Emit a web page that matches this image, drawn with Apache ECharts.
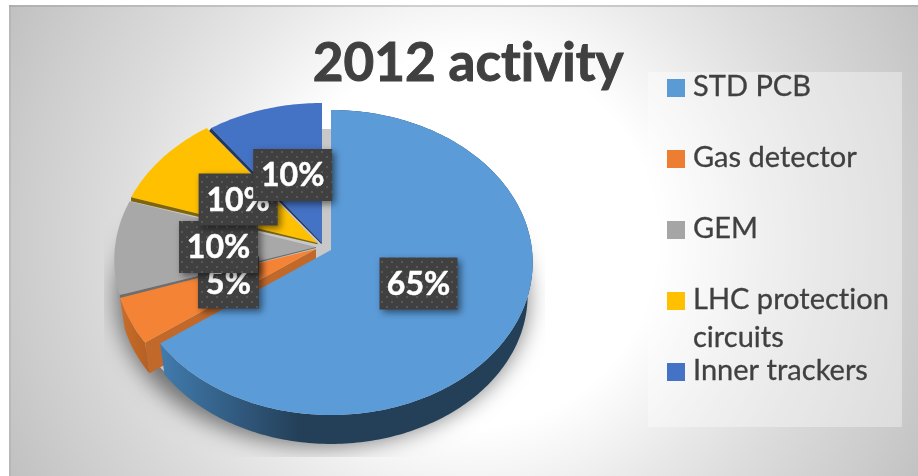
<!DOCTYPE html>
<html>
<head>
<meta charset="utf-8">
<style>html,body{margin:0;padding:0;background:#fff}#chart{width:918px;height:476px}</style>
<script src="https://cdn.jsdelivr.net/npm/echarts@6/dist/echarts.min.js"></script>
</head>
<body>
<div id="chart"></div>
<script>
// Pie values, in percent, clockwise from twelve o'clock
const categories = ['STD PCB', 'Gas detector', 'GEM', 'LHC protection circuits', 'Inner trackers'];
const shares = [65, 5, 10, 10, 10];
const shareLabels = ['65%', '5%', '10%', '10%', '10%'];
const legendLines = [['STD PCB'], ['Gas detector'], ['GEM'], ['LHC protection', 'circuits'], ['Inner trackers']];

// Slice styling
const swatchColors = ['#5b9bd5', '#ed7d31', '#a5a5a5', '#ffc000', '#4472c4'];
const faceColors = ['#5b9bd8', '#f58335', '#a8a8a8', '#ffc000', '#4472c4'];
const edgeColors = [null, '#c1682b', '#6e6e6e', '#7f6408', '#1f3864'];
const sliceOrder = [50, 40, 30, 20, 10];

// Tilted-disc projection; each slice is pulled a little away from the hub
const hubs = [{ x: 331, y: 250 }, { x: 316, y: 249 }, { x: 316, y: 247 }, { x: 317.5, y: 243 }, { x: 322, y: 243 }];
const tagRadius = [0.48, 0.48, 0.485, 0.5, 0.49];
const RX = 201, RY = 151.5, PERSPECTIVE = 0.082;
const DEPTH = 33, LOWER_SCALE = 0.975;
const FONT = 'Lato, Carlito, sans-serif';

function project(deg, radius, c, lower) {
  const t = deg * Math.PI / 180;
  const u = Math.sin(t) * radius, v = -Math.cos(t) * radius;
  const s = 1 / (1 - PERSPECTIVE * v);
  const k = lower ? LOWER_SCALE : 1;
  return [c.x + RX * u * s * k, c.y + (lower ? DEPTH : 0) + RY * v * s * k];
}
function arc(from, to, c, lower) {
  const pts = [], n = Math.max(2, Math.ceil(to - from));
  for (let i = 0; i <= n; i++) pts.push(project(from + (to - from) * i / n, 1, c, lower));
  return pts;
}
function offset(p, dx, dy) { return [p[0] + dx, p[1] + dy]; }

// Fine dot texture of the value tags
const dots = document.createElement('canvas');
dots.width = dots.height = 10;
(function () {
  const g = dots.getContext('2d');
  g.fillStyle = '#404040'; g.fillRect(0, 0, 10, 10);
  g.fillStyle = '#585858'; g.fillRect(1, 1, 2, 2); g.fillRect(6, 6, 2, 2);
})();

function renderSlice(params, api) {
  const i = params.dataIndex;
  const before = shares.slice(0, i).reduce((a, b) => a + b, 0);
  const from = before * 3.6, to = (before + api.value(0)) * 3.6;
  const c = hubs[i];
  const apex = [c.x, c.y];
  const z = sliceOrder[i];
  const kids = [];

  // Rim wall, hidden by the top face where it runs behind the disc
  if (i < 2) {
    const wall = i === 0
      ? { type: 'linear', x: 165, y: 0, x2: 300, y2: 0, global: true,
          colorStops: [{ offset: 0, color: '#4079ab' }, { offset: 1, color: '#243f58' }] }
      : { type: 'linear', x: 120, y: 0, x2: 165, y2: 0, global: true,
          colorStops: [{ offset: 0, color: '#c96d2a' }, { offset: 1, color: '#a9581f' }] };
    kids.push({
      type: 'polygon', z2: z,
      shape: { points: arc(from, to, c, false).concat(arc(from, to, c, true).reverse()) },
      style: { fill: wall }
    });
  }
  // Radial cut of the slice, seen along its clockwise-first edge
  if (i === 1) {
    const a = project(from, 1, c, false), b = project(from, 1, c, true);
    kids.push({
      type: 'polygon', z2: z,
      shape: { points: [apex, a, b, [c.x, c.y + DEPTH]] },
      style: { fill: edgeColors[i] }
    });
  } else if (i > 1) {
    const a = project(from, 1, c, false);
    const d = i === 4 ? [-2, 3] : i === 3 ? [0, 4] : [0, 3];
    kids.push({
      type: 'polygon', z2: z + 12,
      shape: { points: [apex, a, offset(a, d[0], d[1]), offset(apex, d[0] * 0.3, d[1] * 0.3)] },
      style: { fill: edgeColors[i] }
    });
  }
  // Top face
  kids.push({
    type: 'polygon', z2: z + 1,
    shape: { points: [apex].concat(arc(from, to, c, false)) },
    style: { fill: faceColors[i] }
  });

  // Value tag inside the slice; later slices sit above earlier ones
  const mid = project((from + to) / 2, tagRadius[i], c, false);
  const w = i === 1 ? 61 : i === 0 ? 78 : 79, h = 52;
  kids.push({
    type: 'rect', z2: 200 + i * 2,
    shape: { x: mid[0] - w / 2, y: mid[1] - h / 2, width: w, height: h },
    style: { fill: { image: dots, repeat: 'repeat' }, shadowBlur: 7, shadowOffsetX: 3, shadowOffsetY: 3, shadowColor: 'rgba(0,0,0,0.5)' }
  });
  kids.push({
    type: 'text', z2: 201 + i * 2,
    style: { text: shareLabels[i], x: mid[0], y: mid[1] + 1, align: 'center', verticalAlign: 'middle',
      font: 'bold 32px ' + FONT, fill: '#ffffff', stroke: '#ffffff', lineWidth: 0.5 }
  });
  return { type: 'group', children: kids };
}

// Soft ground shadow: the casting outline sits off canvas so only its blur lands on the page
function renderDropShadow() {
  const SHIFT = 2000;
  const cast = [];
  for (let d = 0; d < 360; d += 2) {
    const p = project(d, 1, { x: 0, y: 0 }, false);
    cast.push([322 - SHIFT + p[0] * 1.02, 285 + p[1] * 0.975]);
  }
  return {
    type: 'group',
    clipPath: { type: 'rect', shape: { x: 104, y: 129, width: 441, height: 328 } },
    children: [
      { type: 'polygon', z2: 1, shape: { points: cast },
        style: { fill: '#000', shadowBlur: 22, shadowColor: 'rgba(0,0,0,0.5)', shadowOffsetX: SHIFT } },
      { type: 'polygon', z2: 2, shape: { points: arc(0, 360, { x: 326, y: 268 }, false) },
        style: { fill: '#c8c8c8' } }
    ]
  };
}

function renderLegendRow(params) {
  const i = params.dataIndex;
  const top = 79 + 71 * i;
  const kids = [{
    type: 'rect', shape: { x: 667, y: top, width: 18, height: 18 },
    style: { fill: swatchColors[i] }
  }];
  legendLines[i].forEach((line, j) => {
    kids.push({
      type: 'text',
      style: { text: line, x: 693, y: top + 8 + j * 38, align: 'left', verticalAlign: 'middle',
        font: '29px ' + FONT, fill: '#404040', stroke: '#404040', lineWidth: 0.3 }
    });
  });
  return { type: 'group', children: kids };
}

const option = {
  animation: false,
  backgroundColor: '#ffffff',
  title: {
    text: '2012 activity', left: 463, top: 32, textAlign: 'center',
    textStyle: { fontFamily: FONT, fontWeight: 'bold', fontSize: 53, color: '#404040',
      textBorderColor: '#404040', textBorderWidth: 1 }
  },
  graphic: [
    { type: 'rect', z: -10, shape: { x: 9, y: 5, width: 909, height: 471 },
      style: { fill: { type: 'radial', x: 470, y: 240, r: 520, global: true, colorStops: [
        { offset: 0, color: '#ffffff' }, { offset: 0.36, color: '#ffffff' }, { offset: 0.56, color: '#e8e8e8' },
        { offset: 0.68, color: '#dcdcdc' }, { offset: 0.87, color: '#cccccc' }, { offset: 1, color: '#c0c0c0' }] } } },
    { type: 'rect', z: -9, shape: { x: 9, y: 5, width: 909, height: 2 }, style: { fill: 'rgba(150,150,150,0.4)' } },
    { type: 'rect', z: -9, shape: { x: 9, y: 5, width: 2, height: 471 }, style: { fill: 'rgba(150,150,150,0.25)' } },
    { type: 'rect', z: -8, shape: { x: 648, y: 72, width: 254, height: 355 }, style: { fill: 'rgba(255,255,255,0.36)' } }
  ],
  series: [
    { type: 'custom', name: 'shadow', coordinateSystem: 'none', z: 1, renderItem: renderDropShadow, data: [[0]], silent: true },
    { type: 'custom', name: '2012 activity', coordinateSystem: 'none', z: 2, renderItem: renderSlice,
      data: categories.map((name, i) => ({ name, value: [shares[i]] })) },
    { type: 'custom', name: 'legend', coordinateSystem: 'none', z: 3, renderItem: renderLegendRow,
      data: categories.map((name, i) => ({ name, value: [shares[i]] })), silent: true }
  ]
};

const chart = echarts.init(document.getElementById('chart'), null, { renderer: 'canvas' });
chart.setOption(option);
chart.getZr().refreshImmediately();
// Keep "ti" as two separate letters in the canvas text, then paint again
const surface = document.querySelector('#chart canvas');
if (surface) {
  surface.getContext('2d').letterSpacing = '0.01px';
  chart.setOption(option, true);
}
</script>
</body>
</html>
